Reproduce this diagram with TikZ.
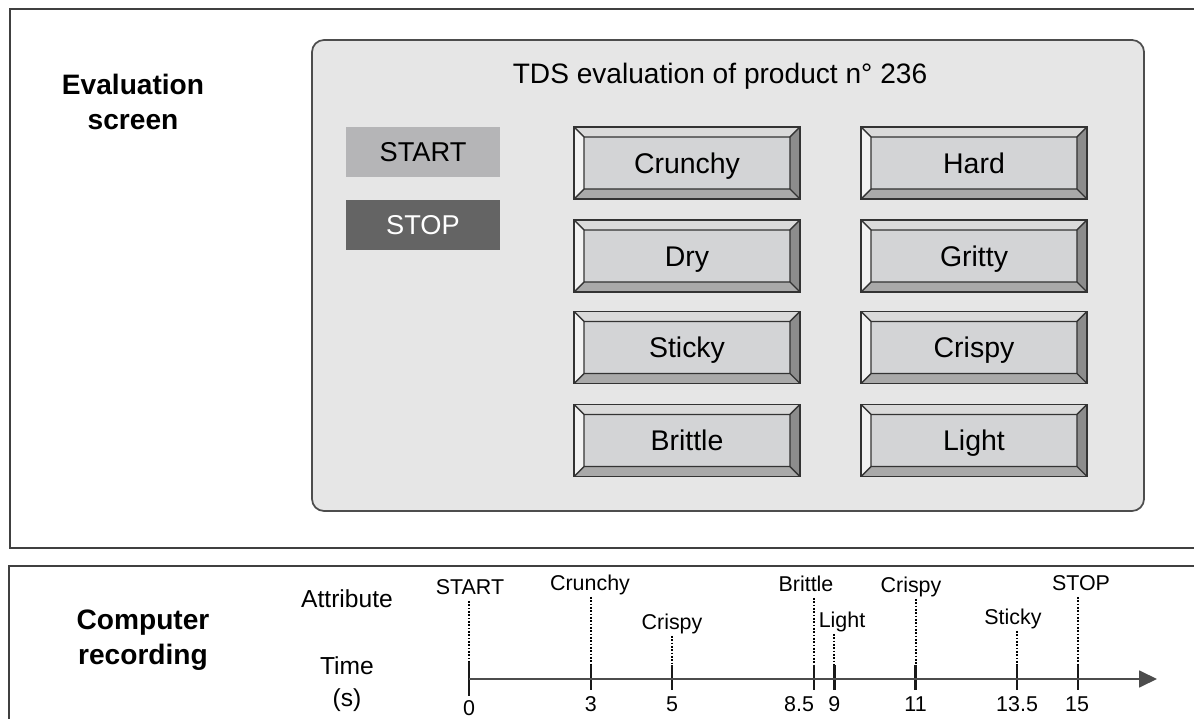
\documentclass[tikz,border=0pt]{standalone}
\usepackage{fontspec}
\setmainfont{Liberation Sans}
\usetikzlibrary{arrows.meta}
\definecolor{panelgray}{HTML}{E6E6E6}
\definecolor{panelline}{HTML}{4D4D4D}
\definecolor{startgray}{HTML}{B5B5B7}
\definecolor{stopgray}{HTML}{646464}
\definecolor{keyface}{HTML}{D3D4D6}
\definecolor{keytop}{HTML}{DADADA}
\definecolor{keyleft}{HTML}{F3F3F3}
\definecolor{keyright}{HTML}{8C8C8C}
\definecolor{keybottom}{HTML}{A9A9A9}
\tikzset{
  {frame/.style} ={draw=black!75,line width=1pt},
  {panel/.style} ={draw=panelline,fill=panelgray,line width=1pt,rounded corners=.24cm},
  {heading/.style} ={align=center,font=\bfseries\fontsize{16}{20}\selectfont},
  {title/.style} ={font=\fontsize{16}{19}\selectfont},
  {btn/.style} ={rectangle,minimum width=3.08cm,minimum height=1cm,
                 inner sep=0,text height=11.1pt,text depth=0pt,
                 font=\fontsize{15.5}{18}\selectfont},
  {startbtn/.style} ={btn,fill=startgray},
  {stopbtn/.style} ={btn,fill=stopgray,text=white},
  key/.style ={rectangle,draw=black!80,line width=.9pt,fill=keyface,
               minimum width=4.52cm,minimum height=1.44cm,inner sep=0,
               text height=11.6pt,text depth=0pt,
               font=\fontsize{16.2}{19}\selectfont,
               path picture={
                 \coordinate (ka) at (path picture bounding box.north west);
                 \coordinate (kb) at (path picture bounding box.north east);
                 \coordinate (kc) at (path picture bounding box.south east);
                 \coordinate (kd) at (path picture bounding box.south west);
                 \coordinate (ia) at ([shift={(.2cm,-.2cm)}]ka);
                 \coordinate (ib) at ([shift={(-.2cm,-.2cm)}]kb);
                 \coordinate (ic) at ([shift={(-.2cm,.2cm)}]kc);
                 \coordinate (id) at ([shift={(.2cm,.2cm)}]kd);
                 \fill[keytop] (ka) -- (kb) -- (ib) -- (ia) -- cycle;
                 \fill[keyright] (kb) -- (kc) -- (ic) -- (ib) -- cycle;
                 \fill[keybottom] (kc) -- (kd) -- (id) -- (ic) -- cycle;
                 \fill[keyleft] (kd) -- (ka) -- (ia) -- (id) -- cycle;
                 \draw[black!80,line width=.8pt] (ia) rectangle (ic)
                   (ka) -- (ia) (kb) -- (ib) (kc) -- (ic) (kd) -- (id);
               }},
  {side label/.style} ={font=\fontsize{14}{17}\selectfont},
  {ev label/.style} ={font=\fontsize{12.2}{14}\selectfont,inner sep=1pt,
                      text height=1.6ex,text depth=.5ex},
  {tick num/.style} ={font=\fontsize{12.2}{14}\selectfont},
  {dot line/.style} ={draw=black,line width=1.1pt,dash pattern=on 1pt off .9pt},
  {tick line/.style} ={draw=black!90,line width=1.4pt},
  {axis line/.style} ={draw=black!70,line width=1pt,-{Triangle[length=.36cm,width=.34cm]}},
}
\begin{document}
\begin{tikzpicture}[x=0.02cm,y=-0.02cm]
\useasboundingbox (0,0) rectangle (1194,719);
% frames, open on the right
\draw[frame] (1200,9) -- (10,9) -- (10,548) -- (1200,548);
\draw[frame] (1200,566) -- (9,566) -- (9,725);

% evaluation screen
\node[heading] (evalscreen) at (133,102) {Evaluation\\screen};
\draw[panel] (312,40) rectangle (1144,511);
\node[title] (title) at (720,76) {TDS evaluation of product n° 236};
\node[startbtn] (start) at (423,152) {START};
\node[stopbtn] (stop) at (423,225) {STOP};

\node[key] (crunchy) at (687,163) {Crunchy};
\node[key] (dry) at (687,256) {Dry};
\node[key] (sticky) at (687,347.5) {Sticky};
\node[key] (brittle) at (687,440.5) {Brittle};
\node[key] (hard) at (974,163) {Hard};
\node[key] (gritty) at (974,256) {Gritty};
\node[key] (crispy) at (974,347.5) {Crispy};
\node[key] (light) at (974,440.5) {Light};

% computer recording
\node[heading] (comprec) at (143,640) {Computer\\recording};
\node[side label] (attribute) at (347,599) {Attribute};
\node[side label,align=center] (timeunit) at (347,684) {Time\\[1pt](s)};

\coordinate (axisend) at (1157,679);
\foreach \t/\lx/\ly/\lab/\tt/\tb/\nx/\ny [count=\i] in
   {0/470/589/START/662/696/0/708, 3/590/585/Crunchy/665/690/0/704,
    5/672/624/Crispy/665/690/0/704, 8.5/806/586/Brittle/665/690/-15/704,
    9/842/622/Light/665/690/0/704, 11/911/587/Crispy/665/690/0/704,
    13.5/1013/619/Sticky/665/690/0/704, 15/1081/585/STOP/665/690/-1/704}{
  \pgfmathsetmacro\x{469+40.6*\t}
  \coordinate (tk\i) at (\x,679);
  \node[ev label] (ev\i) at (\lx,\ly) {\lab};
  \draw[dot line] (ev\i.south -| tk\i) -- (\x,\tt);
  \draw[tick line] (\x,\tt) -- (\x,\tb);
  \node[tick num] (num\i) at (\x+\nx,\ny) {\t};
}
\draw[axis line] (tk1) -- (axisend);
\end{tikzpicture}
\end{document}
